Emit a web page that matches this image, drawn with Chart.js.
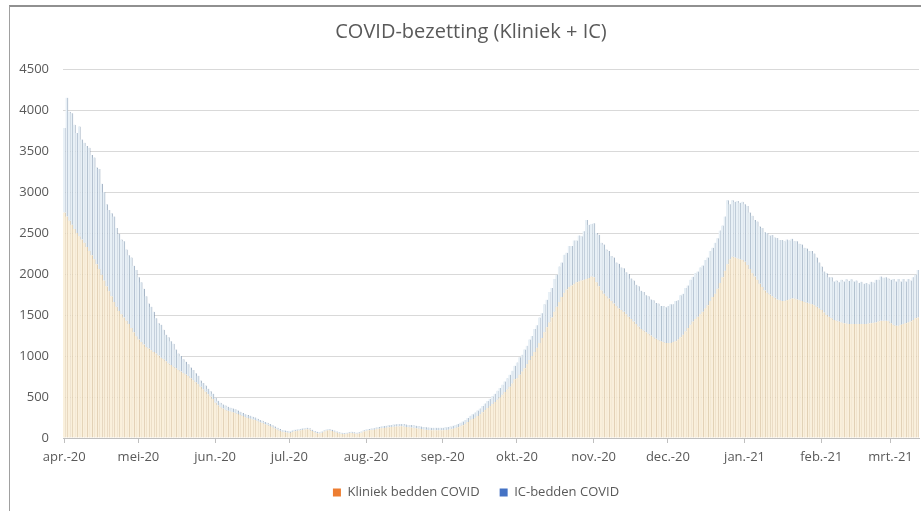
<!DOCTYPE html>
<html>
<head>
<meta charset="utf-8">
<script src="https://cdn.jsdelivr.net/npm/chart.js@4.4.1/dist/chart.umd.min.js"></script>
<style>
  html, body { margin: 0; padding: 0; background: #ffffff; }
  #wrap { position: relative; width: 921px; height: 511px; overflow: hidden; }
  #frame { position: absolute; left: 9px; top: 5px; width: 940px; height: 540px;
           border-left: 1px solid #a0a0a0; border-top: 2px solid #909090; }
  #c { position: absolute; left: 0; top: 0; }
</style>
</head>
<body>
<div id="wrap">
  <div id="frame"></div>
  <canvas id="c" width="921" height="511"></canvas>
</div>
<script>
// Month tick labels and number of days shown per month (Apr 2020 .. 12 Mar 2021)
const monthLabels = ['apr.-20','mei-20','jun.-20','jul.-20','aug.-20','sep.-20','okt.-20','nov.-20','dec.-20','jan.-21','feb.-21','mrt.-21'];
const daysShown   = [30,31,30,31,31,30,31,30,31,31,28,12];

// Kliniek bedden COVID (daily)
const kliniekBedden = [
  // apr
  2750,2700,2650,2600,2550,2500,2460,2420,2380,2330,2280,2230,2180,2120,2060,1990,1920,1850,1790,1730,1660,1600,1550,1510,1470,1430,1390,1340,1290,1240,
  // mei
  1200,1170,1140,1110,1090,1070,1050,1030,1005,980,960,935,910,890,870,850,830,810,790,775,755,730,705,680,655,625,595,565,535,505,475,
  // jun
  430,400,375,360,345,332,324,315,306,293,280,267,254,245,236,227,218,205,191,182,168,159,145,131,117,103,89,75,70,66,
  // jul
  61,71,82,87,92,98,103,108,103,84,69,59,55,65,80,90,95,86,76,66,56,51,47,52,57,62,56,51,56,65,80,
  // aug
  89,93,97,101,108,114,118,122,126,130,134,138,140,141,142,140,135,130,128,125,120,115,110,105,100,98,96,95,95,93,93,
  // sep
  95,98,102,106,113,121,131,144,157,174,195,216,232,248,269,290,315,340,365,390,414,438,467,495,528,560,592,624,665,715,
  // okt
  730,770,810,850,900,950,1000,1050,1100,1160,1220,1290,1350,1410,1470,1540,1600,1660,1720,1770,1810,1840,1860,1880,1900,1910,1920,1930,1940,1950,1970,
  // nov
  1960,1900,1850,1800,1760,1730,1700,1670,1640,1610,1580,1560,1540,1510,1480,1450,1420,1390,1360,1330,1310,1290,1270,1250,1230,1210,1195,1180,1170,1160,
  // dec
  1160,1160,1170,1180,1200,1230,1260,1300,1340,1380,1420,1450,1480,1510,1540,1580,1620,1670,1720,1760,1820,1890,1960,2040,2120,2180,2210,2200,2190,2180,2170,
  // jan
  2150,2110,2060,2010,1970,1930,1880,1840,1800,1770,1750,1730,1710,1690,1680,1670,1670,1680,1690,1700,1700,1690,1680,1670,1660,1650,1640,1630,1620,1600,1580,
  // feb
  1560,1530,1500,1480,1460,1440,1430,1420,1410,1400,1395,1390,1390,1390,1390,1390,1390,1390,1390,1395,1400,1405,1410,1420,1430,1430,1430,1425,
  // mrt
  1400,1380,1370,1370,1380,1390,1400,1410,1420,1440,1460,1470
];

// IC-bedden COVID (daily)
const icBedden = [
  // apr
  1030,1450,1330,1360,1270,1220,1340,1220,1220,1230,1260,1220,1240,1180,1220,1110,1080,1000,990,1010,1040,960,940,910,930,870,840,860,810,810,
  // mei
  760,730,680,620,550,530,490,430,395,400,360,325,320,290,280,230,200,190,170,155,145,130,125,110,105,75,75,75,65,65,65,
  // jun
  60,55,55,50,50,48,46,45,44,42,40,38,36,35,34,33,32,30,29,28,27,26,25,24,23,22,21,20,20,19,
  // jul
  19,19,18,18,18,17,17,17,17,16,16,16,15,15,15,15,15,14,14,14,14,14,13,13,13,13,14,14,14,15,15,
  // aug
  16,17,18,19,20,21,22,23,24,25,26,27,28,29,30,30,30,30,30,30,30,30,30,30,30,30,30,30,30,31,31,
  // sep
  31,32,33,34,35,37,39,41,43,46,50,54,58,62,66,70,75,80,85,90,96,102,108,115,122,130,138,146,155,165,
  // okt
  190,215,205,230,225,250,245,280,275,310,300,340,335,370,360,400,390,430,420,465,450,500,480,530,510,560,540,590,720,650,640,
  // nov
  660,600,630,580,600,570,580,550,560,530,545,520,530,510,520,495,500,480,490,465,470,450,460,440,450,435,445,430,440,435,
  // dec
  450,470,460,490,480,510,500,530,520,550,545,560,550,570,565,590,580,610,600,620,615,640,630,660,780,670,690,680,700,690,710,
  // jan
  700,720,690,700,690,710,700,720,710,730,720,745,735,750,735,745,730,740,720,730,700,710,690,690,660,660,640,650,630,600,560,
  // feb
  530,500,510,480,500,470,490,480,520,510,540,525,545,520,530,500,515,490,500,480,505,490,520,510,540,525,530,520,
  // mrt
  530,560,540,570,530,550,510,530,500,520,530,580
];

const yTicks = { min: 0, max: 4500, step: 500 };

// Build category labels (one per day); month label on day 1
const categories = [];
const tickText = [];
daysShown.forEach((n, m) => {
  for (let d = 1; d <= n; d++) {
    categories.push(d + ' ' + monthLabels[m]);
    tickText.push(d === 1 ? monthLabels[m] : null);
  }
});

const TEXT = '#595959';
const FONT = "'Open Sans', sans-serif";

// Nudge title and legend horizontally to match the original's centring
const nudgeBlocks = {
  id: 'nudgeBlocks',
  afterLayout(chart) {
    if (chart.titleBlock) chart.titleBlock.left += 12;
    if (chart.legend) chart.legend.left += 22;
  }
};

new Chart(document.getElementById('c'), {
  type: 'bar',
  plugins: [nudgeBlocks],
  data: {
    labels: categories,
    datasets: [
      {
        label: 'Kliniek bedden COVID',
        data: kliniekBedden,
        backgroundColor: '#faf0dc',
        borderColor: 'rgba(180,145,95,0.65)',
        borderWidth: { left: 0, right: 0.7, top: 0, bottom: 0 },
        borderSkipped: false,
        barPercentage: 1,
        categoryPercentage: 1,
        legendColor: '#ed7d31'
      },
      {
        label: 'IC-bedden COVID',
        data: icBedden,
        backgroundColor: '#e8f0f6',
        borderColor: 'rgba(95,120,150,0.75)',
        borderWidth: { left: 0, right: 0.7, top: 0, bottom: 0 },
        borderSkipped: false,
        barPercentage: 1,
        categoryPercentage: 1,
        legendColor: '#4472c4'
      }
    ]
  },
  options: {
    responsive: false,
    animation: false,
    devicePixelRatio: 1,
    layout: { padding: { left: 11, right: 2, top: 0, bottom: 2 } },
    plugins: {
      tooltip: { enabled: false },
      title: {
        display: true,
        text: 'COVID-bezetting (Kliniek + IC)',
        color: TEXT,
        font: { family: FONT, size: 20, weight: 'normal', lineHeight: 1.2 },
        padding: { top: 20, bottom: 25 }
      },
      legend: {
        position: 'bottom',
        labels: {
          color: TEXT,
          font: { family: FONT, size: 13 },
          boxWidth: 8,
          boxHeight: 8,
          padding: 20,
          generateLabels(chart) {
            return chart.data.datasets.map((ds, i) => ({
              text: ds.label,
              fillStyle: ds.legendColor,
              strokeStyle: ds.legendColor,
              lineWidth: 0,
              fontColor: TEXT,
              hidden: false,
              datasetIndex: i
            }));
          }
        }
      }
    },
    scales: {
      x: {
        stacked: true,
        offset: true,
        grid: { display: true, drawOnChartArea: false, drawTicks: true, tickLength: 5, offset: false, color: '#bfbfbf' },
        border: { display: true, color: '#bfbfbf' },
        ticks: {
          autoSkip: false,
          maxRotation: 0,
          minRotation: 0,
          color: TEXT,
          font: { family: FONT, size: 13 },
          padding: 6,
          callback: (v, i) => tickText[i]
        },
        afterFit: (s) => { s.height = 28; }
      },
      y: {
        stacked: true,
        min: yTicks.min,
        max: yTicks.max,
        ticks: { stepSize: yTicks.step, color: TEXT, font: { family: FONT, size: 13 }, padding: 14,
                 callback: (v) => String(v) },
        grid: { color: '#d9d9d9', drawTicks: false },
        border: { display: false },
        afterFit: (s) => { s.width = 52; }
      }
    }
  }
});
</script>
</body>
</html>
